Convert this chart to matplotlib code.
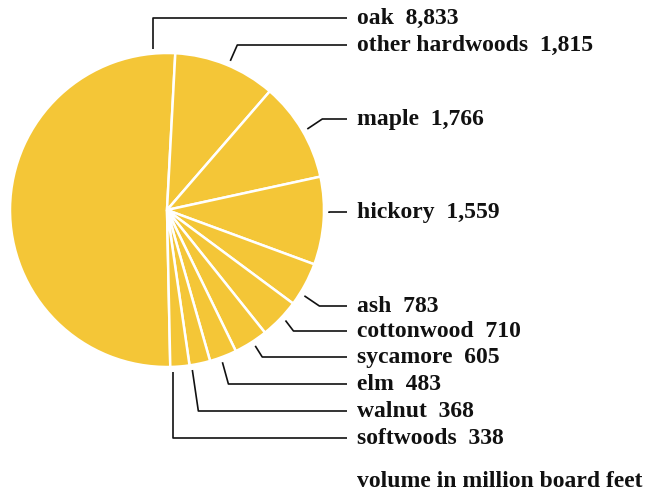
import numpy as np
import matplotlib.pyplot as plt

# data
species = ["oak", "other hardwoods", "maple", "hickory", "ash",
           "cottonwood", "sycamore", "elm", "walnut", "softwoods"]
volume = [8833, 1815, 1766, 1559, 783, 710, 605, 483, 368, 338]
note = "volume in million board feet"

# layout (pixels, y measured from top)
W, H = 649, 492
cx, cy, r = 167, 210, 157
label_x = 357
line_end = 347
label_y = [18, 45, 119, 212, 306, 331, 357, 384, 411, 438]
anchor_ang = [95, 67, 30, -1, -32, -43, -57, -70, -81, -88]
elbow_dx = [0, 7, 15, 0, 15, 8, 7, 6, 6, 0]

yellow = "#F4C637"
font = dict(family="Liberation Serif", weight="bold", color="#111111")

fig = plt.figure(figsize=(W / 100, H / 100), dpi=100)
ax = fig.add_axes([0, 0, 1, 1])

ax.pie(volume, center=(cx, H - cy), radius=r, startangle=271.2,
       counterclock=False, colors=[yellow] * len(volume),
       wedgeprops=dict(edgecolor="white", linewidth=1.8))

for name, v, ly, a, dx in zip(species, volume, label_y, anchor_ang, elbow_dx):
    t = np.deg2rad(a)
    ax0 = cx + (r + 5) * np.cos(t)
    ay0 = cy - (r + 5) * np.sin(t)
    ax.plot([ax0, ax0 + dx, line_end], [H - ay0, H - ly, H - ly],
            color="#111111", lw=1.2, solid_capstyle="butt")
    ax.text(label_x, H - ly - 6, f"{name}  {v:,}", fontsize=17,
            va="baseline", ha="left", **font)

ax.text(label_x, H - 487, note, fontsize=17, va="baseline", ha="left", **font)

ax.set_xlim(0, W)
ax.set_ylim(0, H)
ax.set_aspect("equal")
ax.axis("off")

fig.savefig("out.png", dpi=100)
